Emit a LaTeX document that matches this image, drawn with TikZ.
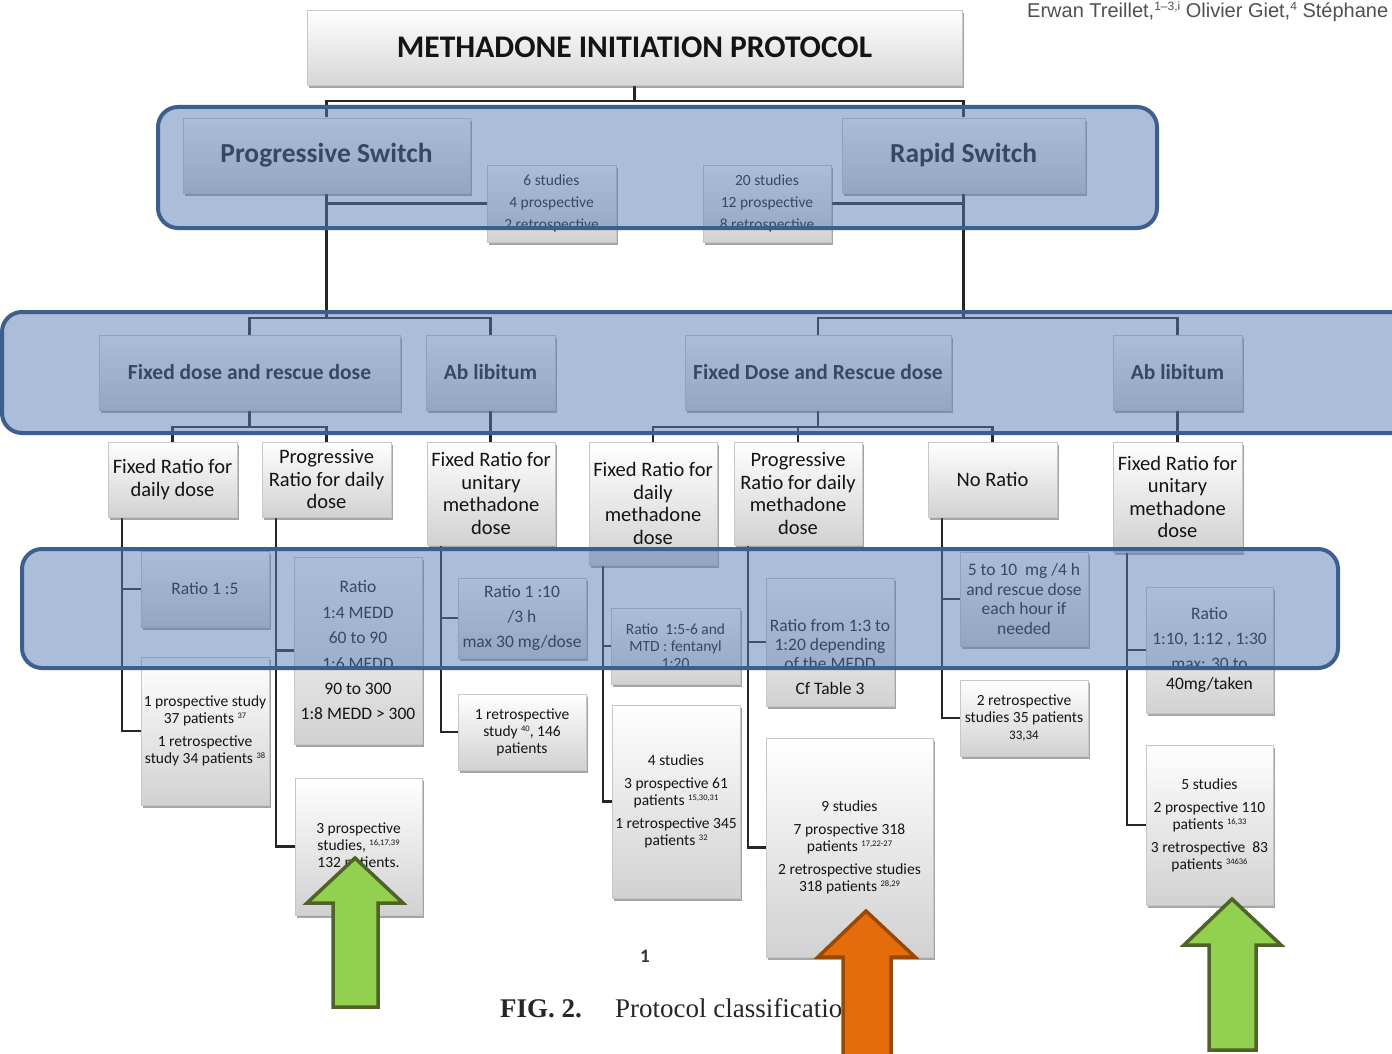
\documentclass[tikz,border=0pt]{standalone}
\usepackage{fontspec}
\setmainfont{Carlito}
\newfontfamily\authfont{Liberation Sans}
\newfontfamily\capfont{Liberation Serif}
\usetikzlibrary{shadows,calc}

\definecolor{bandfill}{RGB}{90,124,180}
\definecolor{bandline}{RGB}{60,95,143}
\definecolor{gfill}{RGB}{146,208,80}
\definecolor{gline}{RGB}{79,98,40}
\definecolor{ofill}{RGB}{228,108,10}
\definecolor{oline}{RGB}{152,72,7}
\definecolor{txt}{RGB}{20,20,20}
\definecolor{authgray}{RGB}{80,80,80}

\pgfdeclarelayer{back}
\pgfsetlayers{back,main}

\newcommand\sups[1]{\raisebox{5pt}{\fontsize{8.5}{9}\selectfont #1}}
\newcommand\mybox[7][]{\node[boxst,minimum width={(#5)-(#3)},minimum height={(#6)-(#4)},#1] (#2) at ({((#3)+(#5))/2},{((#4)+(#6))/2}) {#7};}

\tikzset{
  boxst/.style={draw=black!22, line width=0.6pt, top color=white, bottom color=black!18,
    inner sep=0pt, align=center, text=txt,
    drop shadow={shadow xshift=2pt, shadow yshift=-3pt, opacity=0.5, fill=black!70}},
  conn/.style={draw=black!85, line width=2.2pt},
  band/.style={draw=bandline, line width=4pt, fill=bandfill, fill opacity=0.5, rounded corners=20pt},
  garrow/.style={fill=gfill, draw=gline, line width=3.5pt, line join=miter},
  oarrow/.style={fill=ofill, draw=oline, line width=3.5pt, line join=miter},
  ftitle/.style={font=\fontsize{31.5}{34}\selectfont\bfseries},
  fsw/.style={font=\fontsize{27.5}{30}\selectfont\bfseries},
  fhead/.style={font=\fontsize{21.5}{24}\selectfont\bfseries},
  fstud/.style={font=\fontsize{15.5}{22}\selectfont},
  fthree/.style={font=\fontsize{20.5}{22.5}\selectfont},
  ffour/.style={font=\fontsize{17.5}{25.4}\selectfont},
  ffourb/.style={font=\fontsize{17.5}{19.4}\selectfont},
  fsmall/.style={font=\fontsize{15.5}{17}\selectfont},
}

\begin{document}
\begin{tikzpicture}[x=1pt,y=-1pt]
\clip (0,0) rectangle (1392,1054);
\begin{pgfonlayer}{back}
\fill[white] (0,0) rectangle (1392,1054);
\end{pgfonlayer}

% author line
\node[anchor=base west, inner sep=0pt, text=authgray, font=\authfont\fontsize{20}{20}\selectfont] (auth) at (1027,18)
  {Erwan Treillet,\raisebox{7pt}{\fontsize{12}{12}\selectfont 1–3,i} Olivier Giet,\raisebox{7pt}{\fontsize{12}{12}\selectfont 4} Stéphane};

\mybox[ftitle,bottom color=black!16]{title}{307}{10}{962}{85}{METHADONE INITIATION PROTOCOL}

\mybox[fsw]{ps}{183}{118}{470}{193}{Progressive Switch}
\mybox[fsw]{rs}{842}{118}{1085}{193}{Rapid Switch}
\mybox[fstud]{s1}{487}{165}{616}{242}{6 studies\\4 prospective\\2 retrospective}
\mybox[fstud]{s2}{703}{165}{831}{242}{20 studies\\12 prospective\\8 retrospective}

\mybox[fhead]{fd1}{99}{335}{400}{410}{Fixed dose and rescue dose}
\mybox[fhead]{ab1}{426}{335}{555}{410}{Ab libitum}
\mybox[fhead]{fd2}{685}{335}{951}{410}{Fixed Dose and Rescue dose}
\mybox[fhead]{ab2}{1113}{335}{1242}{410}{Ab libitum}

\mybox[fthree]{r3a}{108}{442}{237}{517}{Fixed Ratio for\\daily dose}
\mybox[fthree]{r3b}{262}{442}{391}{517}{Progressive\\Ratio for daily\\dose}
\mybox[fthree]{r3c}{427}{442}{555}{545}{Fixed Ratio for\\unitary\\methadone\\dose}
\mybox[fthree]{r3d}{589}{442}{717}{565}{Fixed Ratio for\\daily\\methadone\\dose}
\mybox[fthree]{r3e}{734}{442}{862}{545}{Progressive\\Ratio for daily\\methadone\\dose}
\mybox[fthree]{r3f}{928}{442}{1057}{517}{No Ratio}
\mybox[fthree]{r3g}{1113}{442}{1242}{552}{Fixed Ratio for\\unitary\\methadone\\dose}

\mybox[ffour]{r4a}{141}{551}{269}{627}{Ratio 1 :5}
\mybox[ffour]{r4b}{294}{557}{422}{744}{Ratio\\1:4 MEDD\\60 to 90\\1:6 MEDD\\90 to 300\\1:8 MEDD > 300}
\mybox[ffour]{r4c}{458}{578}{586}{658}{Ratio 1 :10\\/3 h\\max 30 mg/dose}
\mybox[fsmall]{r4d}{611}{608}{740}{684}{Ratio\ \ 1:5-6 and\\MTD : fentanyl\\1:20}
\mybox[ffourb]{r4e}{766}{578}{894}{706}{}
\node[ffourb, align=center, text=txt, inner sep=0pt] (r4etext) at (830,657)
  {Ratio from 1:3 to\\1:20 depending\\of the MEDD\\[5.5pt]Cf Table 3};
\mybox[ffourb]{r4f}{960}{552}{1088}{646}{5 to 10\ \ mg /4 h\\and rescue dose\\each hour if\\needed}
\mybox[ffourb]{r4g}{1146}{587}{1273}{713}{Ratio\\[5.5pt]1:10, 1:12 , 1:30\\[5.5pt]max: 30 to\\40mg/taken}

\mybox[fsmall]{r5a}{141}{657}{269}{805}{1 prospective study\\37 patients \sups{37}\\[6pt]1 retrospective\\study 34 patients \sups{38}}
\mybox[fsmall]{r5b}{295}{778}{422}{915}{3 prospective\\studies, \sups{16,17,39}\\132 patients.}
\mybox[fsmall]{r5c}{458}{694}{586}{770}{1 retrospective\\study \sups{40}, 146\\patients}
\mybox[fsmall]{r5d}{612}{705}{740}{898}{4 studies\\[6pt]3 prospective 61\\patients \sups{15,30,31}\\[6pt]1 retrospective 345\\patients \sups{32}}
\mybox[fsmall]{r5e}{766}{738}{933}{957}{9 studies\\[6pt]7 prospective 318\\patients \sups{17,22-27}\\[6pt]2 retrospective studies\\318 patients \sups{28,29}}
\mybox[fsmall]{r5f}{960}{680}{1088}{756}{2 retrospective\\studies 35 patients\\{\fontsize{13}{15}\selectfont 33,34}}
\mybox[fsmall]{r5g}{1146}{745}{1273}{905}{5 studies\\[6pt]2 prospective 110\\patients \sups{16,33}\\[6pt]3 retrospective\ \ 83\\patients \sups{34636}}

% ---------- connectors (behind boxes) ----------
\begin{pgfonlayer}{back}
\draw[conn] (title.south) -- ($(title.south)+(0,16)$) coordinate (t1) -| (ps.north);
\draw[conn] (t1) -| (rs.north);
\draw[conn] (ps.south) |- (s1.west);
\draw[conn] (rs.south) |- (s2.east);
\draw[conn] (ps.south) -- ($(ps.south)+(0,125)$) coordinate (t2) -| (fd1.north);
\draw[conn] (t2) -| (ab1.north);
\draw[conn] (rs.south) -- ($(rs.south)+(0,125)$) coordinate (t3) -| (fd2.north);
\draw[conn] (t3) -| (ab2.north);
\draw[conn] (fd1.south) -- ($(fd1.south)+(0,17)$) coordinate (t4) -| (r3a.north);
\draw[conn] (t4) -| (r3b.north);
\draw[conn] (ab1.south) -- (ab1.south |- r3c.north);
\draw[conn] (fd2.south) -- ($(fd2.south)+(0,17)$) coordinate (t5) -| (r3d.north);
\draw[conn] (t5) -| (r3e.north);
\draw[conn] (t5) -| (r3f.north);
\draw[conn] (ab2.south) -- (ab2.south |- r3g.north);
\foreach \p/\a/\b in {r3a/r4a/r5a, r3b/r4b/r5b, r3c/r4c/r5c, r3d/r4d/r5d, r3e/r4e/r5e, r3f/r4f/r5f, r3g/r4g/r5g}{
  \draw[conn] ([xshift=14pt]\p.south west) |- (\a.west);
  \draw[conn] ([xshift=14pt]\p.south west) |- (\b.west);
}
\end{pgfonlayer}

% ---------- translucent bands ----------
\draw[band] (158,107) rectangle (1157,228);
\draw[band] (2,312) rectangle (1420,433);
\draw[band] (22,549) rectangle (1338,668);

% ---------- caption and page number ----------
\node[anchor=base, inner sep=0pt, font=\fontsize{19}{20}\selectfont\bfseries, text=black!80] (pnum) at (645,962) {1};
\node[anchor=base west, inner sep=0pt, font=\capfont\fontsize{27}{28}\selectfont\bfseries, text=black!85] (figlab) at (500,1017) {FIG. 2.};
\node[anchor=base west, inner sep=0pt, font=\capfont\fontsize{27}{28}\selectfont, text=black!85] (figcap) at (615,1017) {Protocol classification};

% ---------- block arrows ----------
\draw[garrow] (333,1007) -- (333,903) -- (307,903) -- (355,858) -- (403,903) -- (378,903) -- (378,1007) -- cycle;
\draw[oarrow] (843,1075) -- (843,957) -- (818,957) -- (866,911) -- (915,957) -- (891,957) -- (891,1075) -- cycle;
\draw[garrow] (1209,1050) -- (1209,945) -- (1184,945) -- (1232,899) -- (1281,945) -- (1256,945) -- (1256,1050) -- cycle;
\end{tikzpicture}
\end{document}
